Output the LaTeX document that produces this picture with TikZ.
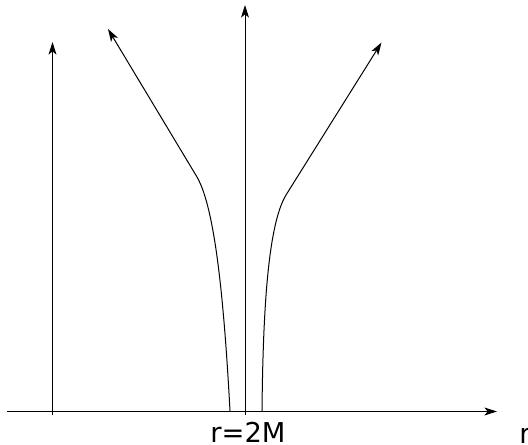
\documentclass[tikz,border=0pt]{standalone}
\usepackage{fontspec}
\setmainfont{DejaVu Sans}
\usetikzlibrary{arrows.meta}
\begin{document}
\begin{tikzpicture}[x=0.75pt,y=-0.75pt,
  curve/.style={line width=0.75pt,-{Stealth[length=9.5pt,width=6pt,inset=2.5pt]}},
  lbl/.style={inner sep=0pt,font=\fontsize{20.5}{24}\selectfont}]
\useasboundingbox (0,0) rectangle (528,445);
% axis
\coordinate (a0) at (7,411.5);
\coordinate (a1) at (497,411.5);
\draw[curve] (a0) -- (a1);
\node[lbl,anchor=base] (rlab) at (248,442) {r=2M};
\node[lbl,anchor=base west] (rax) at (519,443) {r};
% left vertical
\coordinate (v0) at (52.5,415);
\coordinate (v1) at (52.5,42);
\draw[curve] (v0) -- (v1);
% centre vertical
\coordinate (c0) at (245,415);
\coordinate (c1) at (245,5);
\draw[curve] (c0) -- (c1);
% left curve
\coordinate (l0) at (230,411);
\coordinate (lb) at (197,177);
\coordinate (l1) at (108,29);
\draw[curve] (l0) .. controls (224,300) and (215,208) .. (lb) -- (l1);
% right curve
\coordinate (r0) at (262,411);
\coordinate (rb) at (286,195);
\coordinate (r1) at (381.5,42.5);
\draw[curve] (r0) .. controls (263,310) and (268,225) .. (rb) -- (r1);
\end{tikzpicture}
\end{document}
